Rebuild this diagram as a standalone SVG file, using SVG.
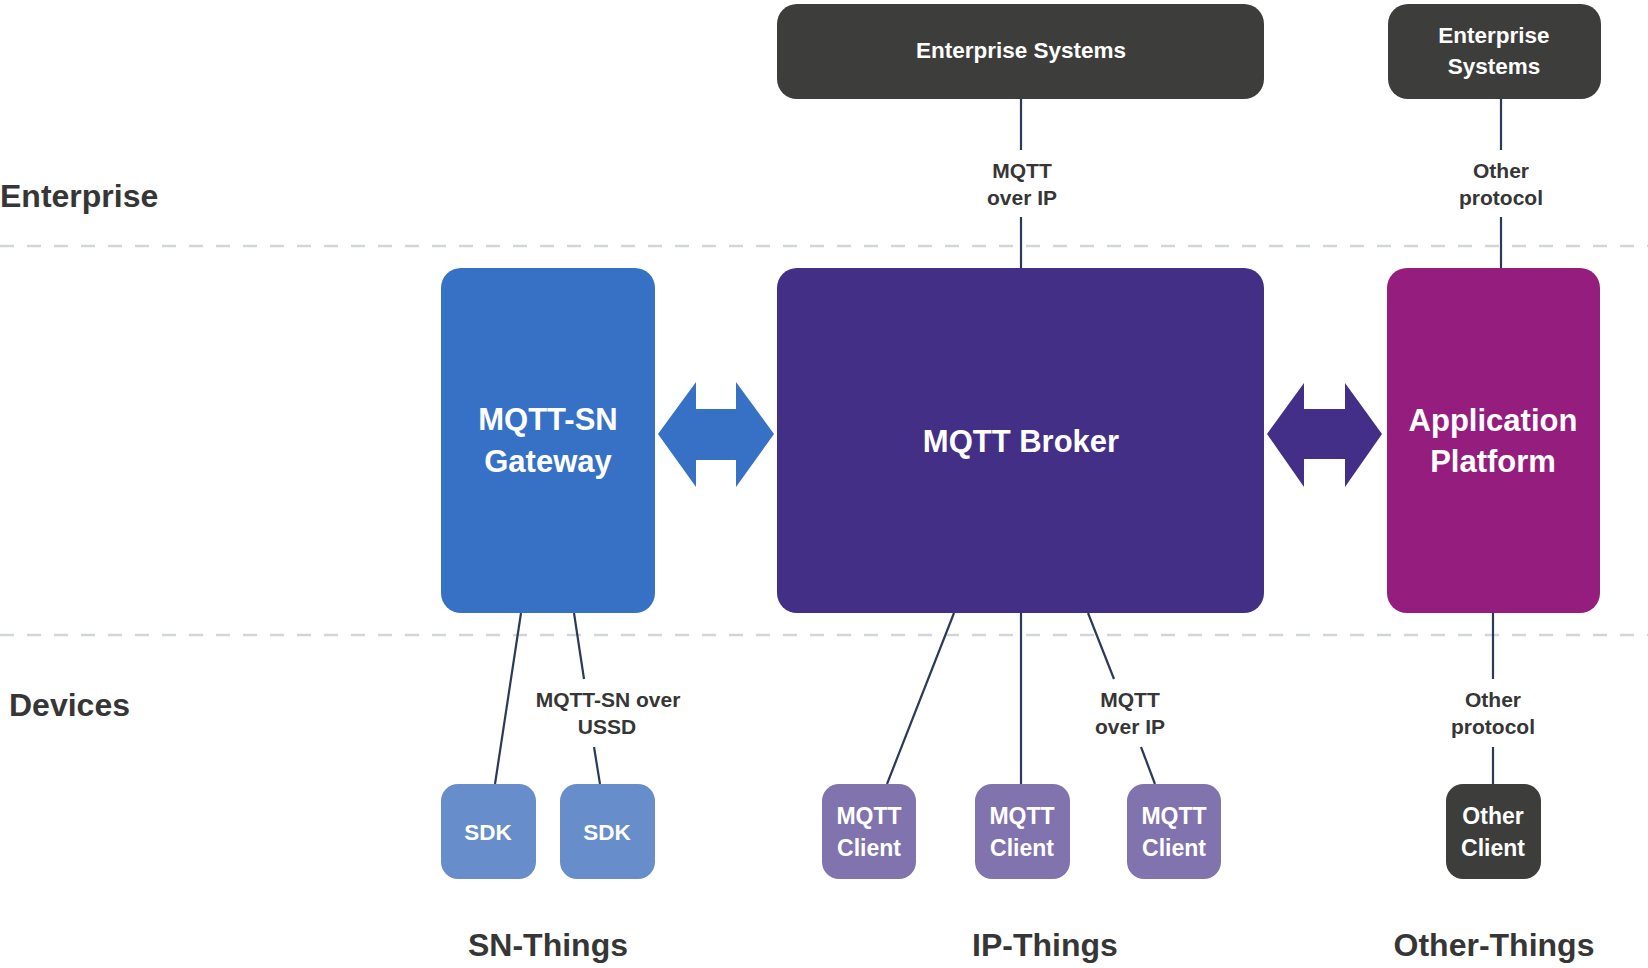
<svg xmlns="http://www.w3.org/2000/svg" width="1648" height="968" viewBox="0 0 1648 968">
<style>
text{font-family:"Liberation Sans",Arial,sans-serif;font-weight:bold;text-anchor:middle}
.sec{font-size:32px;fill:#363636;text-anchor:start}
.grp{font-size:32px;fill:#363636}
.lbl{font-size:21px;fill:#363636}
.w{fill:#fff}
.big{font-size:31px}
.mid{font-size:22.5px}
.sm{font-size:23px}
.conn{stroke:#2b3a57;stroke-width:2.2;fill:none}
.dash{stroke:#d2d6db;stroke-width:2.5;stroke-dasharray:14 13}
</style>
<line class="dash" x1="0" y1="246" x2="1648" y2="246"/>
<line class="dash" x1="0" y1="635" x2="1648" y2="635"/>
<text class="sec" x="0" y="207">Enterprise</text>
<text class="sec" x="9" y="716">Devices</text>
<text class="grp" x="548" y="956">SN-Things</text>
<text class="grp" x="1045" y="956">IP-Things</text>
<text class="grp" x="1494" y="956">Other-Things</text>
<g id="connectors">
<line class="conn" x1="1021" y1="99" x2="1021" y2="150"/>
<line class="conn" x1="1021" y1="217" x2="1021" y2="268"/>
<text class="lbl" x="1022" y="178">MQTT</text>
<text class="lbl" x="1022" y="205">over IP</text>
<line class="conn" x1="1501" y1="99" x2="1501" y2="150"/>
<line class="conn" x1="1501" y1="217" x2="1501" y2="268"/>
<text class="lbl" x="1501" y="178">Other</text>
<text class="lbl" x="1501" y="205">protocol</text>
<line class="conn" x1="521" y1="613" x2="495" y2="784"/>
<line class="conn" x1="574" y1="613" x2="584" y2="679"/>
<line class="conn" x1="594" y1="747" x2="600" y2="784"/>
<text class="lbl" x="608" y="707">MQTT-SN over</text>
<text class="lbl" x="607" y="734">USSD</text>
<line class="conn" x1="954" y1="613" x2="887" y2="784"/>
<line class="conn" x1="1021" y1="613" x2="1021" y2="784"/>
<line class="conn" x1="1088" y1="613" x2="1114" y2="679"/>
<line class="conn" x1="1141" y1="747" x2="1155" y2="784"/>
<text class="lbl" x="1130" y="707">MQTT</text>
<text class="lbl" x="1130" y="734">over IP</text>
<line class="conn" x1="1493" y1="613" x2="1493" y2="679"/>
<line class="conn" x1="1493" y1="747" x2="1493" y2="784"/>
<text class="lbl" x="1493" y="707">Other</text>
<text class="lbl" x="1493" y="734">protocol</text>
<polygon fill="#3671c6" points="658,434 696,382 696,409 736,409 736,382 774,434 736,487 736,460 696,460 696,487"/>
<polygon fill="#432f87" points="1267,434 1304,383 1304,409 1345,409 1345,383 1382,434 1345,487 1345,459 1304,459 1304,487"/>
</g>
<g id="ent1">
<rect x="777" y="4" width="487" height="95" rx="20" fill="#3d3d3b"/>
<text class="w mid" x="1021" y="58">Enterprise Systems</text>
</g>
<g id="ent2">
<rect x="1388" y="4" width="213" height="95" rx="20" fill="#3d3d3b"/>
<text class="w mid" x="1494" y="43">Enterprise</text>
<text class="w mid" x="1494" y="74">Systems</text>
</g>
<g id="gateway">
<rect x="441" y="268" width="214" height="345" rx="20" fill="#3671c6"/>
<text class="w big" x="548" y="430">MQTT-SN</text>
<text class="w big" x="548" y="472">Gateway</text>
</g>
<g id="broker">
<rect x="777" y="268" width="487" height="345" rx="20" fill="#442f87"/>
<text class="w big" x="1021" y="452">MQTT Broker</text>
</g>
<g id="platform">
<rect x="1387" y="268" width="213" height="345" rx="20" fill="#951d7e"/>
<text class="w big" x="1493" y="431">Application</text>
<text class="w big" x="1493" y="472">Platform</text>
</g>
<g id="sdk1">
<rect x="441" y="784" width="95" height="95" rx="17" fill="#678dca"/>
<text class="w mid" x="488" y="840">SDK</text>
</g>
<g id="sdk2">
<rect x="560" y="784" width="95" height="95" rx="17" fill="#678dca"/>
<text class="w mid" x="607" y="840">SDK</text>
</g>
<g id="client1">
<rect x="822" y="784" width="94" height="95" rx="17" fill="#8174ae"/>
<text class="w sm" x="869" y="824">MQTT</text>
<text class="w sm" x="869" y="856">Client</text>
</g>
<g id="client2">
<rect x="975" y="784" width="95" height="95" rx="17" fill="#8174ae"/>
<text class="w sm" x="1022" y="824">MQTT</text>
<text class="w sm" x="1022" y="856">Client</text>
</g>
<g id="client3">
<rect x="1127" y="784" width="94" height="95" rx="17" fill="#8174ae"/>
<text class="w sm" x="1174" y="824">MQTT</text>
<text class="w sm" x="1174" y="856">Client</text>
</g>
<g id="otherclient">
<rect x="1446" y="784" width="95" height="95" rx="17" fill="#3d3d3b"/>
<text class="w sm" x="1493" y="824">Other</text>
<text class="w sm" x="1493" y="856">Client</text>
</g>
</svg>
